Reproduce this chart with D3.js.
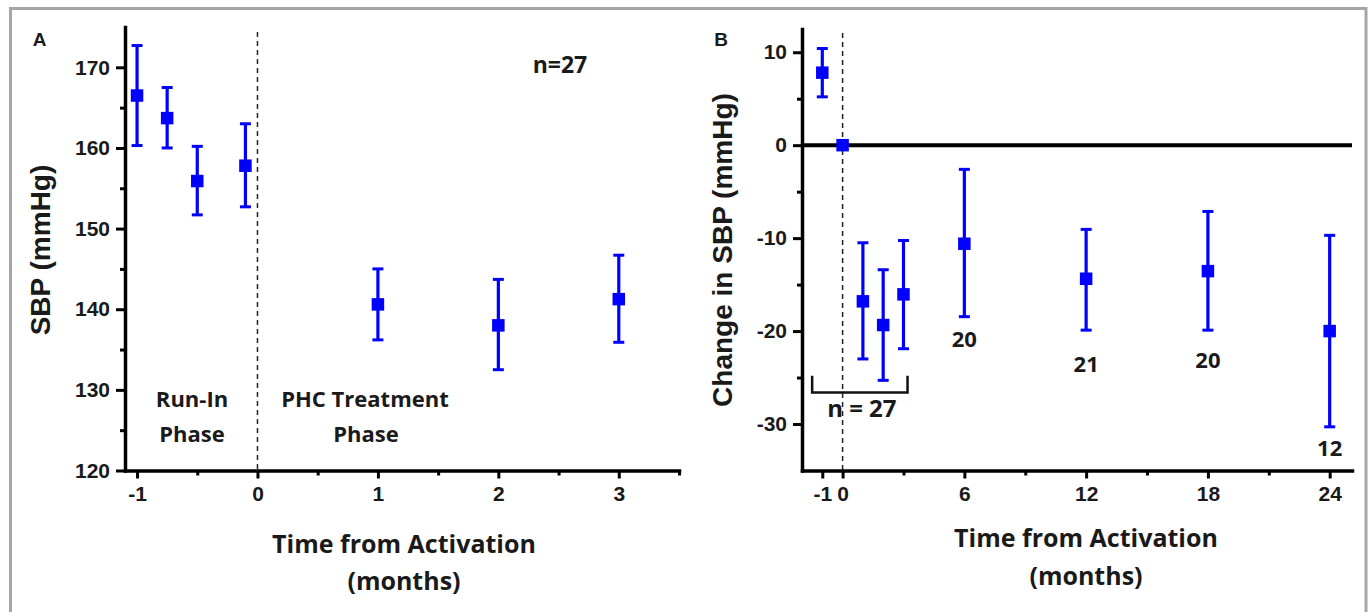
<!DOCTYPE html>
<html><head><meta charset="utf-8">
<script src="https://cdn.jsdelivr.net/npm/d3@7"></script>
<style>body{margin:0;background:#fff} svg{display:block}</style>
</head><body>
<svg id="c" width="1371" height="612"></svg>
<script>
// ---------- Panel A data ----------
const monthsA   = [-1, -0.75, -0.5, -0.1, 1, 2, 3];
const sbpA      = [166.5, 163.7, 155.9, 157.8, 140.6, 138.0, 141.25];
const sbpAHigh  = [172.7, 167.5, 160.2, 163.0, 145.0, 143.7, 146.7];
const sbpALow   = [160.3, 160.0, 151.7, 152.7, 136.2, 132.5, 135.9];
const yTicksA   = [120, 130, 140, 150, 160, 170];
const yMinorA   = [125, 135, 145, 155, 165];
const xTicksA   = [-1, 0, 1, 2, 3];
const xMinorA   = [-0.5, 0.5, 1.5, 2.5, 3.5];

// ---------- Panel B data ----------
const monthsB     = [-1, 0, 1, 2, 3, 6, 12, 18, 24];
const changeB     = [7.8, 0, -16.8, -19.35, -16.05, -10.6, -14.37, -13.55, -20.0];
const changeBHigh = [10.4, 0, -10.5, -13.4, -10.25, -2.6, -9.06, -7.13, -9.7];
const changeBLow  = [5.2, 0, -23.0, -25.3, -21.9, -18.45, -19.9, -19.9, -30.3];
const yTicksB     = [-30, -20, -10, 0, 10];
const yMinorB     = [-25, -15, -5, 5];
const xTicksB     = [-1, 0, 6, 12, 18, 24];
const xMinorB     = [3, 9, 15, 21];
const nMonths     = [6, 12, 18, 24];
const nValues     = ["20", "21", "20", "12"];
const nLabelY     = [-21.7, -24.4, -24.0, -33.4];
const bracketX    = [-1.5, 3.2];
const bracketY    = [-24.8, -26.6];

const svg = d3.select("#c");
const BLUE = "#0000ff";
const AX = "'Liberation Sans', Arial, sans-serif";
const CAL = "'Open Sans', 'Noto Sans', sans-serif";
const fmt = d => String(d);

// frame
svg.append("rect").attr("x", 10.5).attr("y", 8.5).attr("width", 1355.5).attr("height", 640)
  .attr("fill", "none").attr("stroke", "#a6a6a6").attr("stroke-width", 3);

function styleAxis(g, labels) {
  g.select(".domain").attr("stroke", "#000").attr("stroke-width", 3.5).attr("stroke-linecap", "square");
  g.selectAll(".tick line").attr("stroke", "#000").attr("stroke-width", 3);
  g.selectAll(".tick text").attr("font-family", AX).attr("font-weight", "bold")
    .attr("font-size", 21).attr("fill", "#1a1a1a");
  if (!labels) g.selectAll(".tick text").remove();
}

function drawPanel(cfg) {
  const { x, y, months, vals, hi, lo, xT, xM, yT, yM } = cfg;
  const g = svg.append("g");
  g.append("line").attr("x1", x(0)).attr("x2", x(0)).attr("y1", cfg.dashTop).attr("y2", y.range()[0])
    .attr("stroke", "#222").attr("stroke-width", 1.5).attr("stroke-dasharray", "5,4");
  const yAx = g.append("g").attr("transform", `translate(${x.range()[0]},0)`)
    .call(d3.axisLeft(y).tickValues(yT).tickSize(9).tickSizeOuter(0).tickPadding(6).tickFormat(fmt));
  styleAxis(yAx, true);
  const yAxm = g.append("g").attr("transform", `translate(${x.range()[0]},0)`)
    .call(d3.axisLeft(y).tickValues(yM).tickSize(5).tickSizeOuter(0).tickFormat(""));
  styleAxis(yAxm, false); yAxm.select(".domain").remove();
  const xAx = g.append("g").attr("transform", `translate(0,${y.range()[0]})`)
    .call(d3.axisBottom(x).tickValues(xT).tickSize(8).tickSizeOuter(0).tickPadding(8).tickFormat(fmt));
  styleAxis(xAx, true);
  const xAxm = g.append("g").attr("transform", `translate(0,${y.range()[0]})`)
    .call(d3.axisBottom(x).tickValues(xM).tickSize(5).tickSizeOuter(0).tickFormat(""));
  styleAxis(xAxm, false); xAxm.select(".domain").remove();

  if (cfg.extra) cfg.extra(g);

  const cap = 5.5;
  months.forEach((m, i) => {
    if (hi[i] === lo[i]) return;
    const cx = x(m);
    g.append("line").attr("x1", cx).attr("x2", cx).attr("y1", y(hi[i])).attr("y2", y(lo[i]))
      .attr("stroke", BLUE).attr("stroke-width", 3.2);
    [hi[i], lo[i]].forEach(v => g.append("line").attr("x1", cx - cap).attr("x2", cx + cap)
      .attr("y1", y(v)).attr("y2", y(v)).attr("stroke", BLUE).attr("stroke-width", 3));
  });
  const s = 12.5;
  g.selectAll("rect.pt").data(months).enter().append("rect").attr("class", "pt")
    .attr("x", d => x(d) - s / 2).attr("y", (d, i) => y(vals[i]) - s / 2)
    .attr("width", s).attr("height", s).attr("fill", BLUE);
  return g;
}

// ---------- Panel A ----------
const xA = d3.scaleLinear().domain([-1.1, 3.5]).range([125, 679]);
const yA = d3.scaleLinear().domain([120, 175]).range([470.5, 27]);
drawPanel({ x: xA, y: yA, months: monthsA, vals: sbpA, hi: sbpAHigh, lo: sbpALow,
  xT: xTicksA, xM: xMinorA, yT: yTicksA, yM: yMinorA, dashTop: 32 });

function txt(x, y, s, size, fam, anchor, rot) {
  const t = svg.append("text").attr("x", x).attr("y", y).text(s)
    .attr("font-family", fam).attr("font-weight", "bold").attr("font-size", size)
    .attr("fill", "#1a1a1a").attr("text-anchor", anchor || "middle");
  if (rot) t.attr("transform", `rotate(-90,${x},${y})`);
  return t;
}
txt(39.5, 46, "A", 19, AX);
txt(50, 250, "SBP (mmHg)", 28, AX, "middle", true);
txt(560, 73, "n=27", 23, CAL);
txt(192, 407, "Run-In", 22, CAL);
txt(192, 442, "Phase", 22, CAL);
txt(365, 407, "PHC Treatment", 22, CAL);
txt(366, 442, "Phase", 22, CAL);
txt(404, 553, "Time from Activation", 25, CAL);
txt(404, 590, "(months)", 25, CAL);

// ---------- Panel B ----------
const xB = d3.scaleLinear().domain([-2, 25.1]).range([802, 1352]);
const yB = d3.scaleLinear().domain([-35, 12.5]).range([470.5, 29]);
drawPanel({ x: xB, y: yB, months: monthsB, vals: changeB, hi: changeBHigh, lo: changeBLow,
  xT: xTicksB, xM: xMinorB, yT: yTicksB, yM: yMinorB, dashTop: 33,
  extra: g => {
    g.append("line").attr("x1", xB.range()[0]).attr("x2", xB.range()[1])
      .attr("y1", yB(0)).attr("y2", yB(0)).attr("stroke", "#000").attr("stroke-width", 4);
    g.append("path").attr("d", d3.line()([
      [xB(bracketX[0]), yB(bracketY[0])], [xB(bracketX[0]), yB(bracketY[1])],
      [xB(bracketX[1]), yB(bracketY[1])], [xB(bracketX[1]), yB(bracketY[0])]]))
      .attr("fill", "none").attr("stroke", "#111").attr("stroke-width", 2.5);
  } });

txt(721, 46, "B", 19, AX);
txt(732, 250, "Change in SBP (mmHg)", 28, AX, "middle", true);
txt(xB(0.95), 416.5, "n = 27", 24, CAL);
nMonths.forEach((m, i) => txt(xB(m), yB(nLabelY[i]), nValues[i], 22, CAL));
txt(1086, 547, "Time from Activation", 25, CAL);
txt(1086, 585, "(months)", 25, CAL);
</script>
</body></html>
